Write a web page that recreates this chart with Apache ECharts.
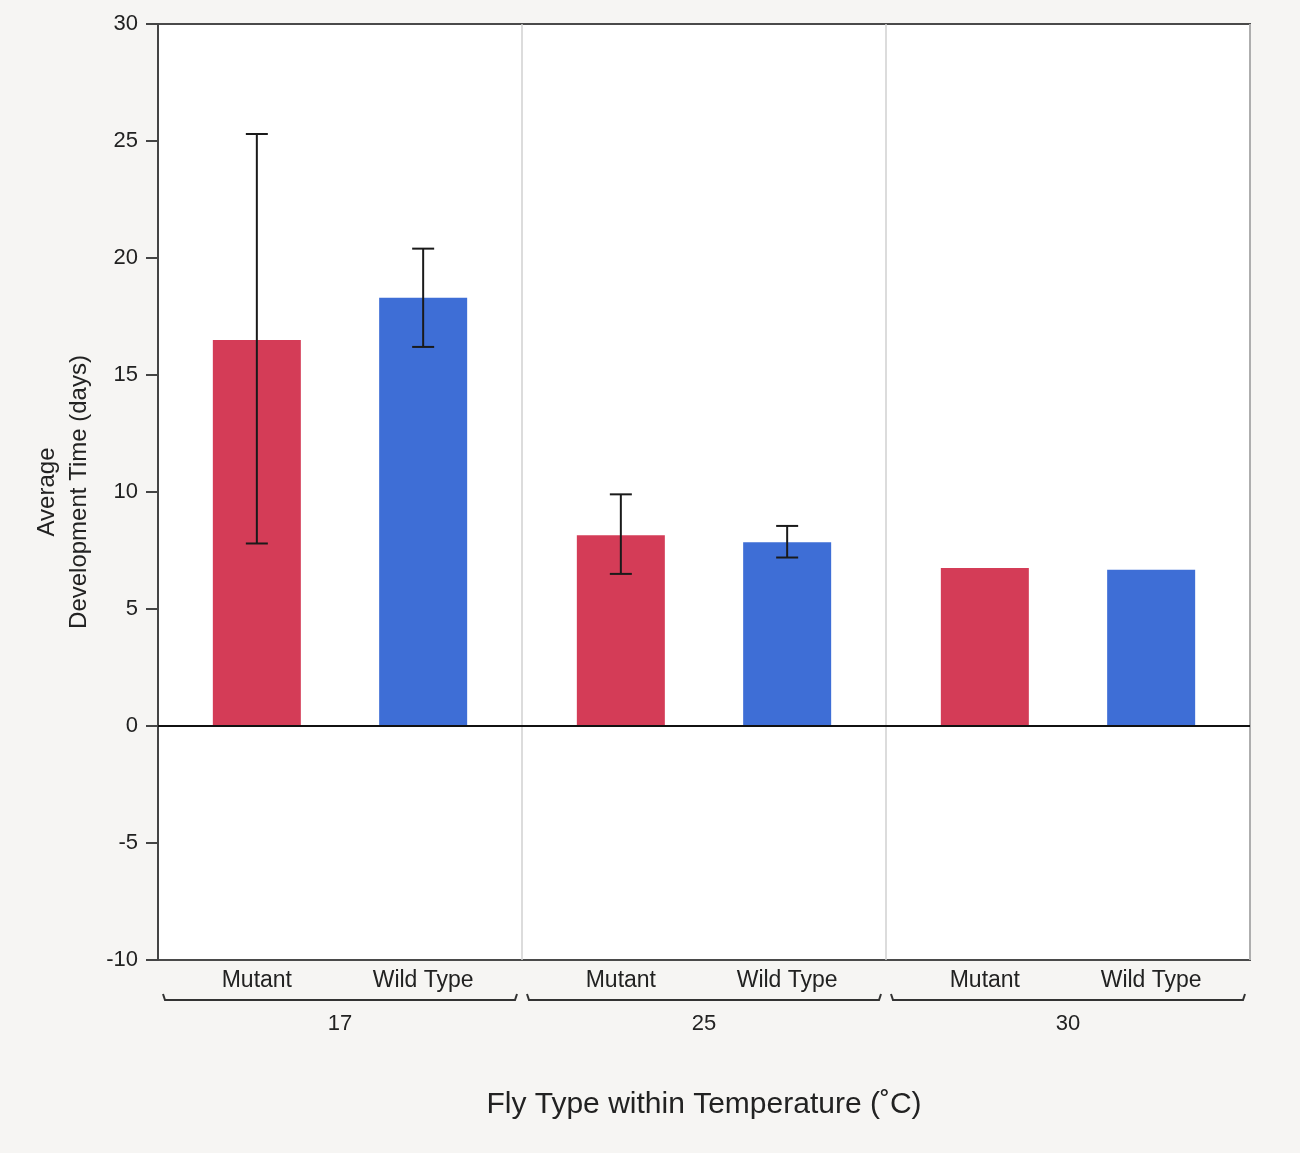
<!DOCTYPE html>
<html>
<head>
<meta charset="utf-8">
<style>
    html, body { margin: 0; padding: 0; background: #f6f5f3; }
    #chart { width: 1300px; height: 1153px; }
</style>
<script src="https://cdn.jsdelivr.net/npm/echarts@6/dist/echarts.min.js"></script>
</head>
<body>
<div id="chart"></div>
<script>
    // temperatures (groups) and fly types (series)
    var temps = ['17', '25', '30'];
    var flyTypes = ['Mutant', 'Wild Type'];

    // average development time (days)
    var mutantMean = [16.5, 8.15, 6.75];
    var wildMean = [18.3, 7.85, 6.68];

    // error bar ranges [low, high], null = none drawn
    var mutantErr = [[7.8, 25.3], [6.5, 9.9], null];
    var wildErr = [[16.2, 20.4], [7.2, 8.55], null];

    var yTicks = { min: -10, max: 30, step: 5 };

    var BAR_W = 88, GAP = 0.89;
    var OFF = (BAR_W + BAR_W * GAP) / 2;   // px from group centre to bar centre
    var FONT = 'Liberation Sans, Arial, sans-serif';

    var chart = echarts.init(document.getElementById('chart'));

    function errData(list) {
        var out = [];
        list.forEach(function (e, i) { if (e) out.push([i, e[0], e[1]]); });
        return out;
    }

    function errSeries(list, side) {
        return {
            type: 'custom',
            z: 5,
            silent: true,
            data: errData(list),
            encode: { x: 0, y: [1, 2] },
            renderItem: function (params, api) {
                var lo = api.coord([api.value(0), api.value(1)]);
                var hi = api.coord([api.value(0), api.value(2)]);
                var x = lo[0] + side * OFF;
                var cap = 11;
                var st = { stroke: '#1a1a1a', lineWidth: 2 };
                return {
                    type: 'group',
                    children: [
                        { type: 'line', shape: { x1: x, y1: lo[1], x2: x, y2: hi[1] }, style: st },
                        { type: 'line', shape: { x1: x - cap, y1: hi[1], x2: x + cap, y2: hi[1] }, style: st },
                        { type: 'line', shape: { x1: x - cap, y1: lo[1], x2: x + cap, y2: lo[1] }, style: st }
                    ]
                };
            }
        };
    }

    chart.setOption({
        backgroundColor: '#f6f5f3',
        animation: false,
        grid: {
            left: 158, right: 50, top: 24, bottom: 193,
            show: true, backgroundColor: '#ffffff',
            borderColor: '#4a4a4a', borderWidth: 2
        },
        xAxis: {
            type: 'category',
            data: temps,
            name: 'Fly Type within Temperature (\u02DAC)',
            nameLocation: 'middle',
            nameGap: 130,
            nameTextStyle: { fontFamily: FONT, fontSize: 30, color: '#222' },
            axisLine: { show: false },
            axisTick: { show: false },
            axisLabel: { margin: 53, fontFamily: FONT, fontSize: 22, color: '#222' },
            splitLine: { show: true, lineStyle: { color: '#d0d0d0', width: 1.5 } }
        },
        yAxis: {
            type: 'value',
            min: yTicks.min, max: yTicks.max, interval: yTicks.step,
            name: 'Average\nDevelopment Time (days)',
            nameLocation: 'middle',
            nameGap: 61,
            nameTextStyle: { fontFamily: FONT, fontSize: 24, color: '#222', lineHeight: 32 },
            axisLine: { show: true, lineStyle: { color: '#444', width: 2 } },
            axisTick: { show: true, length: 12, lineStyle: { color: '#444', width: 2 } },
            axisLabel: { margin: 20, fontFamily: FONT, fontSize: 22, color: '#222' },
            splitLine: { show: false }
        },
        series: [
            {
                name: flyTypes[0], type: 'bar', data: mutantMean,
                barWidth: BAR_W, barGap: (GAP * 100) + '%',
                itemStyle: { color: '#d43c57' },
                markLine: {
                    silent: true, symbol: 'none',
                    label: { show: false },
                    lineStyle: { color: '#111', type: 'solid', width: 2 },
                    data: [{ yAxis: 0 }]
                }
            },
            {
                name: flyTypes[1], type: 'bar', data: wildMean,
                barWidth: BAR_W,
                itemStyle: { color: '#3e6ed6' }
            },
            errSeries(mutantErr, -1),
            errSeries(wildErr, 1),
            {
                // fly type labels and group brackets under the axis
                type: 'custom',
                silent: true,
                data: temps.map(function (t, i) { return [i, yTicks.min]; }),
                encode: { x: 0, y: 1 },
                renderItem: function (params, api) {
                    var p = api.coord([api.value(0), api.value(1)]);
                    var band = api.size([1, 0])[0];
                    var left = p[0] - band / 2 + 5, right = p[0] + band / 2 - 5;
                    var by = p[1] + 40;
                    var ts = { fontFamily: FONT, fontSize: 23, fill: '#222', align: 'center', verticalAlign: 'middle' };
                    return {
                        type: 'group',
                        children: [
                            { type: 'text', x: p[0] - OFF, y: p[1] + 21, style: Object.assign({ text: flyTypes[0] }, ts) },
                            { type: 'text', x: p[0] + OFF, y: p[1] + 21, style: Object.assign({ text: flyTypes[1] }, ts) },
                            {
                                type: 'polyline',
                                shape: { points: [[left, by - 6], [left + 2, by], [right - 2, by], [right, by - 6]] },
                                style: { stroke: '#333', lineWidth: 2, fill: null }
                            }
                        ]
                    };
                }
            }
        ]
    });
</script>
</body>
</html>
